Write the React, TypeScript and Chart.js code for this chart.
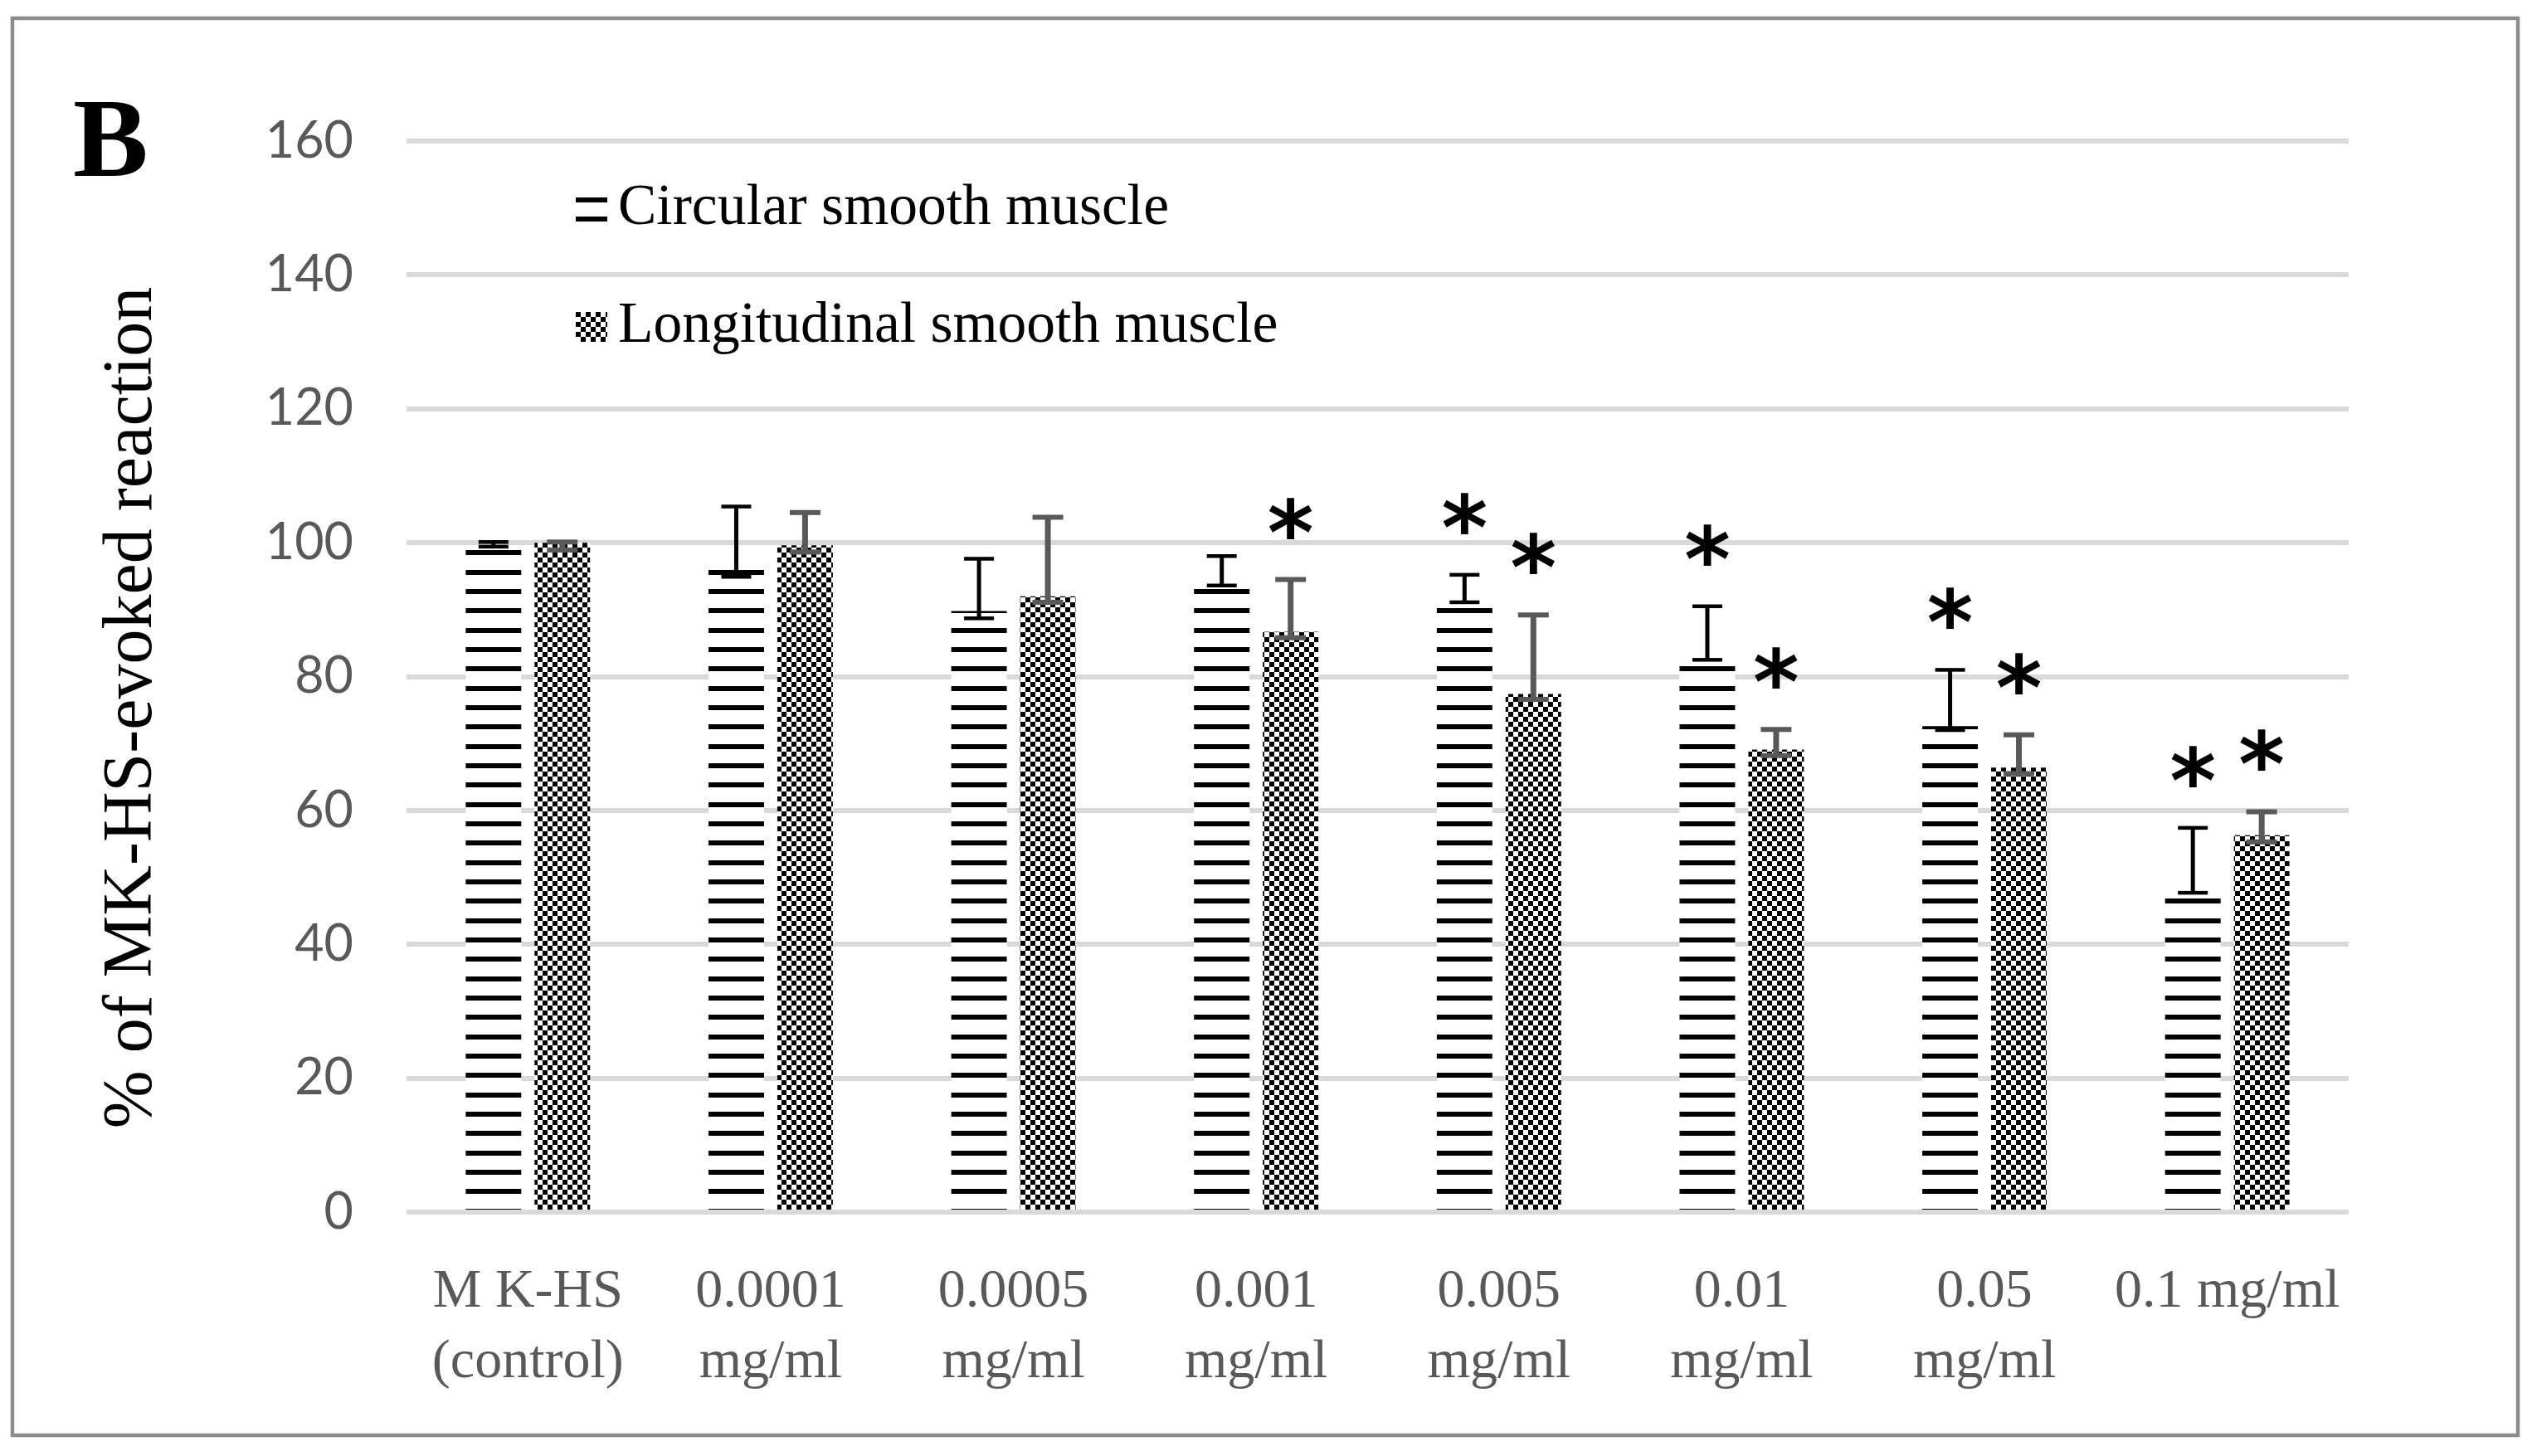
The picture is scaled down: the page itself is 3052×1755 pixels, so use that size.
import { useEffect, useRef } from "react";
import { Chart, registerables, type ChartItem, type Plugin } from "chart.js";

Chart.register(...registerables);

const CATEGORIES = [
  ["M K-HS", "(control)"],
  ["0.0001", "mg/ml"],
  ["0.0005", "mg/ml"],
  ["0.001", "mg/ml"],
  ["0.005", "mg/ml"],
  ["0.01", "mg/ml"],
  ["0.05", "mg/ml"],
  "0.1 mg/ml",
];

// circular smooth muscle: bar value and the ends of its error bar
const CIRCULAR = [99.5, 96.0, 89.8, 93.6, 91.1, 82.5, 72.6, 47.7];
const CIRCULAR_LOW = [99.4, 94.9, 88.7, 93.6, 91.1, 82.5, 72.0, 47.7];
const CIRCULAR_HIGH = [100.1, 105.4, 97.6, 98.0, 95.2, 90.5, 81.0, 57.4];
const CIRCULAR_SIG = [false, false, false, false, true, true, true, true];

// longitudinal smooth muscle
const LONGITUDINAL = [100.0, 99.6, 92.0, 86.7, 77.4, 69.1, 66.4, 56.3];
const LONGITUDINAL_LOW = [98.9, 98.6, 91.1, 85.8, 76.6, 68.2, 65.5, 55.3];
const LONGITUDINAL_HIGH = [100.1, 104.5, 103.8, 94.5, 89.2, 72.1, 71.3, 59.8];
const LONGITUDINAL_SIG = [false, false, false, true, true, true, true, true];

const Y_MIN = 0;
const Y_MAX = 160;
const Y_STEP = 20;

const W = 3052;
const H = 1755;
const SERIF = "'Liberation Serif', 'Times New Roman', serif";

function stripeCanvas() {
  const c = document.createElement("canvas");
  c.width = 8;
  c.height = 70;
  const g = c.getContext("2d")!;
  g.fillStyle = "#fff";
  g.fillRect(0, 0, 8, 70);
  g.fillStyle = "#000";
  [0, 23, 47].forEach((y) => g.fillRect(0, y, 8, 6));
  return c;
}

function checkerCanvas() {
  const c = document.createElement("canvas");
  c.width = 12;
  c.height = 12;
  const g = c.getContext("2d")!;
  g.fillStyle = "#fff";
  g.fillRect(0, 0, 12, 12);
  g.fillStyle = "#000";
  g.fillRect(0, 0, 6, 6);
  g.fillRect(6, 6, 6, 6);
  return c;
}

function drawStar(ctx: CanvasRenderingContext2D, x: number, cy: number) {
  ctx.save();
  ctx.font = "bold 100px 'DejaVu Sans'";
  const m = ctx.measureText("*");
  const gh = m.actualBoundingBoxAscent + m.actualBoundingBoxDescent;
  const size = (100 * 50) / gh;
  ctx.font = `bold ${size}px 'DejaVu Sans'`;
  const m2 = ctx.measureText("*");
  ctx.fillStyle = "#000";
  ctx.textAlign = "center";
  ctx.textBaseline = "alphabetic";
  const base = cy + (m2.actualBoundingBoxAscent - m2.actualBoundingBoxDescent) / 2;
  ctx.fillText("*", x, base);
  ctx.restore();
}

export default function App() {
  const canvasRef = useRef<HTMLCanvasElement>(null);
  const chartRef = useRef<Chart | null>(null);

  useEffect(() => {
    document.body.style.margin = "0";
    document.body.style.overflow = "hidden";
    if (!canvasRef.current) return;
    const ctx = canvasRef.current.getContext("2d")!;

    const stripes = ctx.createPattern(stripeCanvas(), "repeat")!;
    stripes.setTransform(new DOMMatrix().translate(0, 10));
    const checker = ctx.createPattern(checkerCanvas(), "repeat")!;

    const series = [
      { low: CIRCULAR_LOW, high: CIRCULAR_HIGH, sig: CIRCULAR_SIG, color: "#000", lw: 5, capW: 36, capH: 4.5 },
      { low: LONGITUDINAL_LOW, high: LONGITUDINAL_HIGH, sig: LONGITUDINAL_SIG, color: "#595959", lw: 7, capW: 37, capH: 6 },
    ];

    const extras: Plugin<"bar"> = {
      id: "extras",
      beforeDraw(chart) {
        const c = chart.ctx;
        c.save();
        c.fillStyle = "#fff";
        c.fillRect(0, 0, W, H);
        c.strokeStyle = "#8c8c8c";
        c.lineWidth = 4.5;
        c.strokeRect(15, 22, 3020, 1708);
        c.restore();
      },
      afterDatasetsDraw(chart) {
        const c = chart.ctx;
        const ys = chart.scales.y;
        c.save();
        series.forEach((s, di) => {
          chart.getDatasetMeta(di).data.forEach((bar, i) => {
            const x = bar.x;
            const yl = ys.getPixelForValue(s.low[i]);
            const yh = ys.getPixelForValue(s.high[i]);
            c.fillStyle = s.color;
            c.fillRect(x - s.lw / 2, yh, s.lw, yl - yh);
            c.fillRect(x - s.capW / 2, yh - s.capH / 2, s.capW, s.capH);
            c.fillRect(x - s.capW / 2, yl - s.capH / 2, s.capW, s.capH);
            if (s.sig[i]) drawStar(c, x, yh - 74);
          });
        });
        c.restore();
      },
      afterDraw(chart) {
        const c = chart.ctx;
        c.save();
        // panel letter
        c.fillStyle = "#000";
        c.font = `bold 136px ${SERIF}`;
        c.textAlign = "left";
        c.textBaseline = "alphabetic";
        c.fillText("B", 88, 212);

        // y axis title
        c.save();
        c.translate(182, 853);
        c.rotate(-Math.PI / 2);
        c.font = `84px ${SERIF}`;
        c.textAlign = "center";
        c.fillText("% of MK-HS-evoked reaction", 0, 0);
        c.restore();

        // legend
        const names = ["Circular smooth muscle", "Longitudinal smooth muscle"];
        const fills = [stripeCanvas(), checkerCanvas()];
        const rows = [
          { y0: 238, h: 30, base: 270 },
          { y0: 376, h: 36, base: 412 },
        ];
        rows.forEach((r, i) => {
          c.save();
          c.translate(694, r.y0);
          c.fillStyle = c.createPattern(fills[i], "repeat")!;
          c.fillRect(0, 0, 38, r.h);
          c.restore();
          c.fillStyle = "#000";
          c.font = `69.5px ${SERIF}`;
          c.textAlign = "left";
          c.fillText(names[i], 745, r.base);
        });
        c.restore();
      },
    };

    chartRef.current = new Chart(ctx as ChartItem, {
      type: "bar",
      data: {
        labels: CATEGORIES,
        datasets: [
          {
            label: "Circular smooth muscle",
            data: CIRCULAR,
            backgroundColor: stripes,
            borderWidth: 0,
            categoryPercentage: 0.567,
            barPercentage: 0.807,
          },
          {
            label: "Longitudinal smooth muscle",
            data: LONGITUDINAL,
            backgroundColor: checker,
            borderWidth: 0,
            categoryPercentage: 0.567,
            barPercentage: 0.807,
          },
        ],
      },
      options: {
        responsive: false,
        animation: false,
        devicePixelRatio: 1,
        layout: { padding: { top: 170, right: 221, bottom: 0, left: 0 } },
        plugins: {
          legend: { display: false },
          tooltip: { enabled: false },
        },
        scales: {
          x: {
            grid: { display: false },
            border: { display: false },
            ticks: {
              color: "#595959",
              font: { family: SERIF, size: 66, lineHeight: 85 / 66 },
              padding: 46,
              autoSkip: false,
              maxRotation: 0,
            },
            afterFit: (s) => {
              s.height = H - 1461;
            },
          },
          y: {
            min: Y_MIN,
            max: Y_MAX,
            ticks: {
              stepSize: Y_STEP,
              color: "#595959",
              font: { family: "Lato", size: 61 },
              padding: 64,
            },
            grid: { color: "#d9d9d9", lineWidth: 6, drawTicks: false },
            border: { display: false },
            afterFit: (s) => {
              s.width = 490;
            },
          },
        },
      },
      plugins: [extras],
    });
    return () => {
      chartRef.current?.destroy();
      chartRef.current = null;
    };
  }, []);

  return (
    <div style={{ width: W, height: H, background: "#fff" }}>
      <canvas ref={canvasRef} width={W} height={H} style={{ display: "block" }} />
    </div>
  );
}
